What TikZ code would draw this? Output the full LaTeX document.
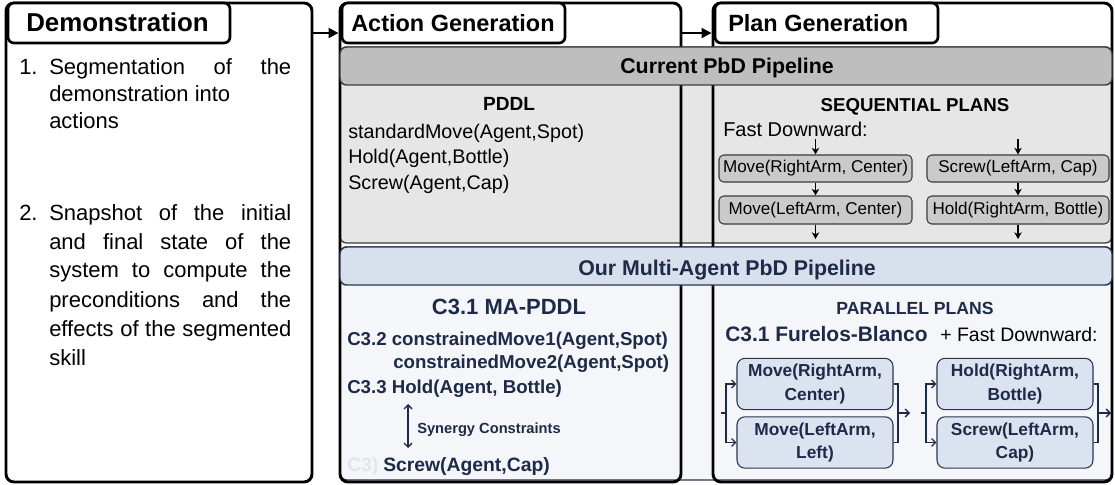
\documentclass[tikz,border=0pt]{standalone}
\usepackage{fontspec}
\setmainfont{Liberation Sans}
\usetikzlibrary{arrows.meta,fit}
\definecolor{navy}{HTML}{1E2A47}
\definecolor{bluebar}{HTML}{D8E0EE}
\definecolor{bluepanel}{HTML}{F4F6FA}
\definecolor{bluebox}{HTML}{DCE3F0}
\definecolor{bluedraw}{HTML}{2B3550}
\definecolor{graybar}{HTML}{BEBEBE}
\definecolor{graypanel}{HTML}{E7E6E7}
\definecolor{graybox}{HTML}{CACACA}
\definecolor{graydraw}{HTML}{3C3C3C}
\definecolor{faint}{HTML}{E2E5EC}
\begin{document}
\begin{tikzpicture}[x=0.75pt,y=-0.75pt,
  outerbox/.style={draw=black, line width=2.2pt, rounded corners=6pt, inner sep=0pt},
  outerfill/.style={fill=white, rounded corners=6pt, inner sep=0pt},
  titlebox/.style={draw=black, fill=white, line width=2pt, rounded corners=4.5pt, inner sep=0pt},
  panel/.style={rounded corners=5pt, inner sep=0pt, line width=1pt},
  bar/.style={rounded corners=5pt, inner sep=0pt, line width=1.1pt},
  txt/.style={inner sep=0pt, anchor=base west},
  ctxt/.style={inner sep=0pt, anchor=base},
  seqbox/.style={draw=graydraw, fill=graybox, line width=0.8pt, rounded corners=3.5pt, inner sep=0pt,
     font=\fontsize{12.8pt}{15pt}\selectfont},
  parbox/.style={draw=bluedraw, fill=bluebox, line width=0.8pt, rounded corners=6pt, inner sep=0pt,
     minimum width=117pt, minimum height=38.5pt,
     align=center, text=navy, font=\fontsize{13pt}{17.5pt}\selectfont\bfseries},
  stagearr/.style={-{Triangle[length=7.5pt,width=7.5pt]}, line width=1.5pt},
  arr/.style={-{Stealth[length=5pt,width=5.5pt,inset=1.5pt]}, line width=0.9pt},
  parr/.style={-{Straight Barb[length=3pt,width=6pt]}, line width=1pt, draw=navy},
  plink/.style={line width=1pt, draw=navy}
]
\useasboundingbox (0,0) rectangle (1115,485);

% outer boxes (fill)
\node[outerfill, fit={(6,3) (312,482)}] (demoF) {};
\node[outerfill, fit={(340,3) (681,482)}] (actF) {};
\node[outerfill, fit={(713,3) (1112,482)}] (planF) {};

% panels
\node[panel, fill=graypanel, draw=graydraw, fit={(340,47) (1112,243)}] (grayP) {};
\node[panel, fill=bluepanel, draw=bluedraw, fit={(340,247) (1112,480)}] (blueP) {};

% outer box borders
\node[outerbox, fit={(6,3) (312,482)}] (demo) {};
\node[outerbox, fit={(340,3) (681,482)}] (act) {};
\node[outerbox, fit={(713,3) (1112,482)}] (plan) {};

% banners
\node[bar, fill=graybar, draw=graydraw, fit={(340,47) (1112,85)}] (grayB) {};
\node[bar, fill=bluebar, draw=bluedraw, fit={(340,247) (1112,285)}] (blueB) {};
\node[ctxt, font=\fontsize{16pt}{18pt}\selectfont\bfseries] (grayBt) at (727,74) {Current PbD Pipeline};
\node[ctxt, font=\fontsize{16pt}{18pt}\selectfont\bfseries, text=navy] (blueBt) at (727,275) {Our Multi-Agent PbD Pipeline};

% title boxes
\node[titlebox, fit={(8,3) (230,43)}] (demoT) {};
\node[txt, font=\fontsize{19.4pt}{22pt}\selectfont\bfseries] (demoTt) at (26,32) {Demonstration};
\node[titlebox, fit={(342,3) (565,43)}] (actT) {};
\node[txt, font=\fontsize{17.6pt}{20pt}\selectfont\bfseries] (actTt) at (351,32) {Action Generation};
\node[titlebox, fit={(715,3) (938,43)}] (planT) {};
\node[txt, font=\fontsize{17.6pt}{20pt}\selectfont\bfseries] (planTt) at (728,32) {Plan Generation};

% arrows between stages
\coordinate (ay) at (0,33);
\draw[stagearr] (demo.east |- ay) -- (act.west |- ay);
\draw[stagearr] (act.east |- ay) -- (plan.west |- ay);

% Demonstration text
\node[txt, font=\fontsize{16.5pt}{20pt}\selectfont] (n1) at (19,75) {1.};
\node[txt] (d1) at (49,75) {\parbox[t]{181.5pt}{\fontsize{16.5pt}{20.25pt}\selectfont
  \makebox[181.5pt][s]{Segmentation of the}\\
  demonstration into\\
  actions}};
\node[txt, font=\fontsize{16.5pt}{20pt}\selectfont] (n2) at (19,220) {2.};
\node[txt] (d2) at (49,220) {\parbox[t]{181.5pt}{\fontsize{16.5pt}{21.75pt}\selectfont
  \makebox[181.5pt][s]{Snapshot of the initial}\\
  \makebox[181.5pt][s]{and final state of the}\\
  \makebox[181.5pt][s]{system to compute the}\\
  \makebox[181.5pt][s]{preconditions and the}\\
  \makebox[181.5pt][s]{effects of the segmented}\\
  skill}};

% PDDL
\node[ctxt, font=\fontsize{14.3pt}{16pt}\selectfont\bfseries] (pddl) at (509,111) {PDDL};
\node[txt, font=\fontsize{14.8pt}{17pt}\selectfont] (p1) at (348,138) {standardMove(Agent,Spot)};
\node[txt, font=\fontsize{14.8pt}{17pt}\selectfont] (p2) at (348,164) {Hold(Agent,Bottle)};
\node[txt, font=\fontsize{14.8pt}{17pt}\selectfont] (p3) at (348,190) {Screw(Agent,Cap)};

% Sequential plans
\node[ctxt, font=\fontsize{14pt}{16pt}\selectfont\bfseries] (seq) at (915,112) {SEQUENTIAL PLANS};
\node[txt, font=\fontsize{15pt}{17pt}\selectfont] (fd) at (723,137) {Fast Downward:};
\node[seqbox, minimum width=144.75pt, minimum height=20.25pt] (s1) at (815.5,168.5) {Move(RightArm, Center)};
\node[seqbox, minimum width=136.5pt, minimum height=20.25pt] (s2) at (1018,168.5) {Screw(LeftArm, Cap)};
\node[seqbox, minimum width=144.75pt, minimum height=21pt] (s3) at (815.5,210) {Move(LeftArm, Center)};
\node[seqbox, minimum width=136.5pt, minimum height=21pt] (s4) at (1018,210) {Hold(RightArm, Bottle)};
\coordinate (s1in) at (s1.north |- 0,139);
\coordinate (s2in) at (s2.north |- 0,139);
\coordinate (s3out) at (s3.south |- 0,239);
\coordinate (s4out) at (s4.south |- 0,239);
\draw[arr] (s1in) -- (s1.north);
\draw[arr] (s2in) -- (s2.north);
\draw[arr] (s1.south) -- (s3.north);
\draw[arr] (s2.south) -- (s4.north);
\draw[arr] (s3.south) -- (s3out);
\draw[arr] (s4.south) -- (s4out);

% MA-PDDL
\node[ctxt, font=\fontsize{16.5pt}{19pt}\selectfont\bfseries, text=navy] (mapddl) at (509,314) {C3.1 MA-PDDL};
\node[txt, font=\fontsize{14pt}{16pt}\selectfont\bfseries, text=navy] (c32) at (347,345) {C3.2 constrainedMove1(Agent,Spot)};
\node[txt, font=\fontsize{14pt}{16pt}\selectfont\bfseries, text=navy] (c32b) at (393,368) {constrainedMove2(Agent,Spot)};
\node[txt, font=\fontsize{14pt}{16pt}\selectfont\bfseries, text=navy] (c33) at (347,393) {C3.3 Hold(Agent, Bottle)};
\coordinate (syt) at (408,404);
\coordinate (syb) at (408,448);
\draw[{Straight Barb[length=3pt,width=6pt]}-{Straight Barb[length=3pt,width=6pt]}, line width=1pt, navy] (syt) -- (syb);
\node[txt, font=\fontsize{11pt}{13pt}\selectfont\bfseries, text=navy] (syn) at (417,433) {Synergy Constraints};
\node[txt, font=\fontsize{14.5pt}{16pt}\selectfont\bfseries, text=faint] (c3f) at (347,471) {C3)};
\node[txt, font=\fontsize{14.5pt}{16pt}\selectfont\bfseries, text=navy] (scr) at (383,471) {Screw(Agent,Cap)};

% Parallel plans
\node[ctxt, font=\fontsize{13.2pt}{15pt}\selectfont\bfseries, text=navy] (par) at (915,314) {PARALLEL PLANS};
\node[txt, font=\fontsize{15.7pt}{18pt}\selectfont\bfseries, text=navy] (fb) at (725,341) {C3.1 Furelos-Blanco};
\node[txt, font=\fontsize{14.6pt}{17pt}\selectfont] (pfd) at (940,341) {+ Fast Downward:};
\node[parbox] (pa) at (815,384) {Move(RightArm,\\Center)};
\node[parbox] (pb) at (815,442.5) {Move(LeftArm,\\Left)};
\node[parbox] (pc) at (1015,384) {Hold(RightArm,\\Bottle)};
\node[parbox] (pd) at (1015,442.5) {Screw(LeftArm,\\Cap)};
\coordinate (in1) at (721,413);
\coordinate (br1) at (726,413);
\coordinate (br2) at (898,413);
\coordinate (out1) at (910,413);
\coordinate (in2) at (921,413);
\coordinate (br3) at (926,413);
\coordinate (br4) at (1098,413);
\coordinate (out2) at (1111,413);
\draw[plink] (in1) -- (br1);
\draw[parr] (br1) |- (pa.west);
\draw[parr] (br1) |- (pb.west);
\draw[plink] (pa.east) -| (br2);
\draw[plink] (pb.east) -| (br2);
\draw[parr] (br2) -- (out1);
\draw[plink] (in2) -- (br3);
\draw[parr] (br3) |- (pc.west);
\draw[parr] (br3) |- (pd.west);
\draw[plink] (pc.east) -| (br4);
\draw[plink] (pd.east) -| (br4);
\draw[parr] (br4) -- (out2);
\end{tikzpicture}
\end{document}
